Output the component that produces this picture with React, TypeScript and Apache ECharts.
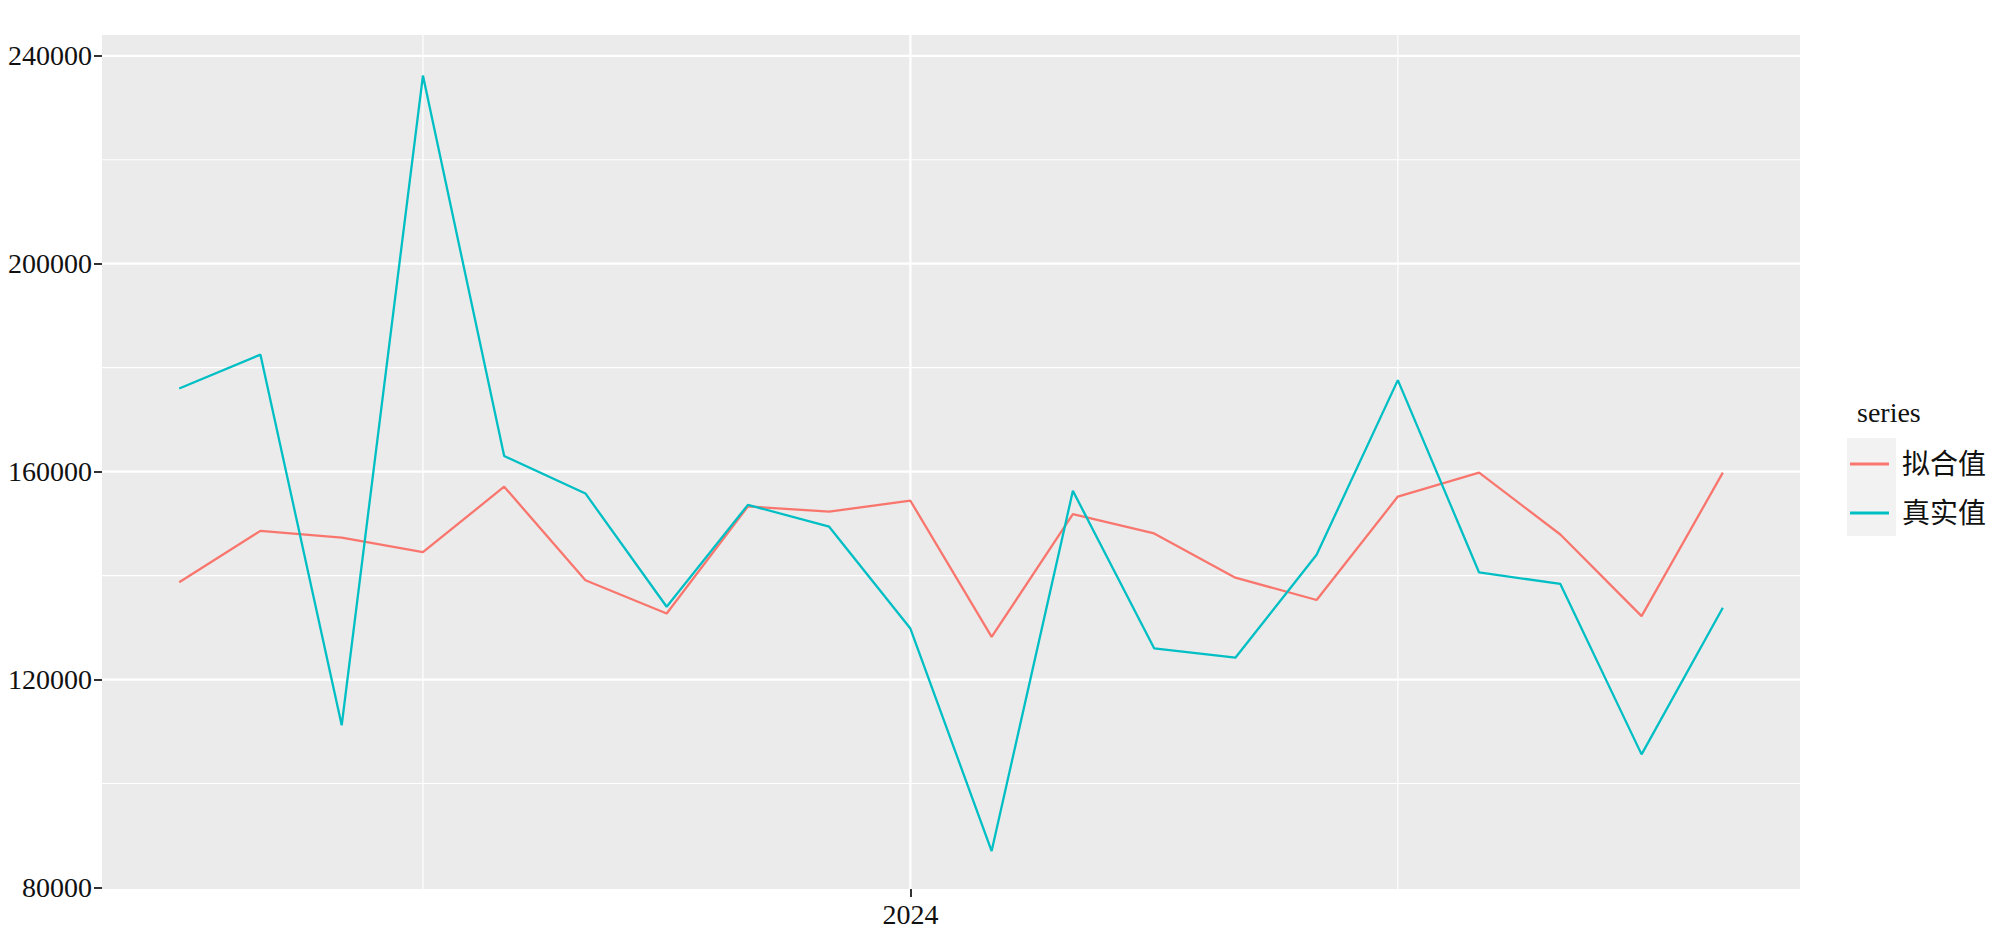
import React, { useEffect, useRef } from "react";
import * as echarts from "echarts";

// ---- data ----
const months = [
  "2023-04", "2023-05", "2023-06", "2023-07", "2023-08", "2023-09", "2023-10",
  "2023-11", "2023-12", "2024-01", "2024-02", "2024-03", "2024-04", "2024-05",
  "2024-06", "2024-07", "2024-08", "2024-09", "2024-10", "2024-11",
];
const fittedValues = [
  138700, 148600, 147300, 144500, 157100, 139100, 132700, 153300, 152300, 154400,
  128200, 151800, 148100, 139600, 135300, 155200, 159800, 147900, 132200, 159800,
];
const actualValues = [
  176000, 182500, 111200, 236200, 163000, 155800, 134000, 153600, 149400, 129800,
  87000, 156300, 126000, 124200, 144000, 177600, 140600, 138400, 105600, 133800,
];
const seriesNames = ["拟合值", "真实值"];
const yTickValues = [80000, 120000, 160000, 200000, 240000];
const yMajorGrid = [120000, 160000, 200000, 240000];
const yMinorGrid = [100000, 140000, 180000, 220000];
const xTickValues = [2024];
const xTickLabels = ["2024"];
const xMinorGrid = [2023.5, 2024.5];
const xRange = [2023.1708, 2024.9125];
const yRange = [79700, 244000];

// month string -> decimal year (time-series index)
const toT = (s: string) => {
  const p = s.split("-").map(Number);
  return p[0] + (p[1] - 1) / 12;
};

const SERIF = "'Liberation Serif', 'Times New Roman', serif";
const CJK = "'Liberation Serif', 'Noto Sans CJK SC', serif";

export default function App() {
  const ref = useRef<HTMLDivElement>(null);
  useEffect(() => {
    if (!ref.current) return;
    const chart = echarts.init(ref.current, null, { renderer: "svg" });
    const xMin = xRange[0];
    const gridData: number[][] = [
      ...yMajorGrid.map((v) => [xMin, v, 0]),
      ...yMinorGrid.map((v) => [xMin, v, 1]),
      ...xTickValues.map((t) => [t, yRange[0], 2]),
      ...xMinorGrid.map((t) => [t, yRange[0], 3]),
    ];
    chart.setOption({
      animation: false,
      backgroundColor: "#FFFFFF",
      title: {
        text: "series",
        left: 1857,
        top: 398,
        padding: 0,
        textStyle: { fontFamily: SERIF, fontSize: 28, fontWeight: "normal", color: "#111" },
      },
      legend: {
        orient: "vertical",
        left: 1850,
        top: 449,
        padding: 0,
        itemGap: 19,
        itemWidth: 39,
        itemHeight: 3,
        icon: "rect",
        selectedMode: false,
        data: seriesNames,
        textStyle: {
          fontFamily: CJK,
          fontSize: 28,
          lineHeight: 30,
          color: "#111",
          padding: [0, 0, 0, 8],
        },
      },
      graphic: [
        {
          type: "rect",
          z: 1,
          shape: { x: 1847, y: 438, width: 49, height: 98 },
          style: { fill: "#F2F2F2" },
        },
      ],
      grid: {
        left: 102,
        top: 35,
        width: 1698,
        height: 854,
        show: true,
        backgroundColor: "#EBEBEB",
        borderWidth: 0,
        containLabel: false,
        outerBoundsMode: "none",
      },
      xAxis: {
        type: "value",
        min: xRange[0],
        max: xRange[1],
        axisLine: { show: false },
        splitLine: { show: false },
        axisTick: {
          show: true,
          length: 8,
          lineStyle: { color: "#333", width: 2 },
          customValues: xTickValues,
        },
        axisLabel: {
          customValues: xTickValues,
          margin: 11,
          fontFamily: SERIF,
          fontSize: 28,
          color: "#111",
          formatter: (v: number) => {
            const i = xTickValues.indexOf(v);
            return i >= 0 ? xTickLabels[i] : "";
          },
        },
      },
      yAxis: {
        type: "value",
        min: yRange[0],
        max: yRange[1],
        axisLine: { show: false },
        splitLine: { show: false },
        axisTick: {
          show: true,
          length: 8,
          lineStyle: { color: "#333", width: 2 },
          customValues: yTickValues,
        },
        axisLabel: {
          customValues: yTickValues,
          margin: 10,
          fontFamily: SERIF,
          fontSize: 28,
          color: "#111",
          formatter: (v: number) => String(v),
        },
      },
      series: [
        {
          type: "custom",
          name: "grid",
          z: 1,
          silent: true,
          data: gridData,
          encode: { x: 0, y: 1 },
          renderItem: (params: any, api: any) => {
            const kind = api.value(2);
            const cs = params.coordSys;
            if (kind < 2) {
              const y = api.coord([xMin, api.value(1)])[1];
              return {
                type: "line",
                shape: { x1: cs.x, y1: y, x2: cs.x + cs.width, y2: y },
                style: { stroke: "#FFFFFF", lineWidth: kind === 0 ? 2.2 : 1.2 },
              };
            }
            const x = api.coord([api.value(0), yRange[0]])[0];
            return {
              type: "line",
              shape: { x1: x, y1: cs.y, x2: x, y2: cs.y + cs.height },
              style: { stroke: "#FFFFFF", lineWidth: kind === 2 ? 2.2 : 1.2 },
            };
          },
        },
        {
          type: "line",
          name: seriesNames[0],
          z: 3,
          showSymbol: false,
          color: "#F8766D",
          lineStyle: { width: 2.3, color: "#F8766D" },
          data: months.map((m, i) => [toT(m), fittedValues[i]]),
        },
        {
          type: "line",
          name: seriesNames[1],
          z: 4,
          showSymbol: false,
          color: "#00BFC4",
          lineStyle: { width: 2.3, color: "#00BFC4" },
          data: months.map((m, i) => [toT(m), actualValues[i]]),
        },
      ],
    });
    return () => chart.dispose();
  }, []);
  return (
    <div
      ref={ref}
      style={{ position: "fixed", left: 0, top: 0, width: 2000, height: 938 }}
    />
  );
}
